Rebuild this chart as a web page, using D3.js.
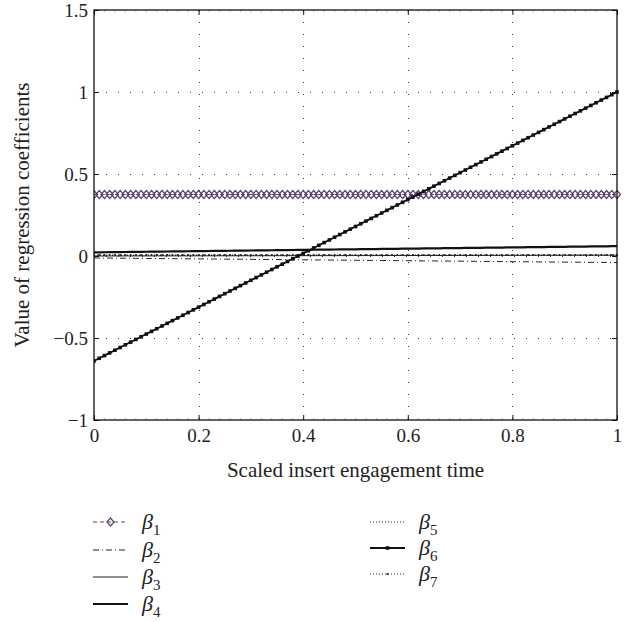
<!DOCTYPE html>
<html><head><meta charset="utf-8">
<script src="https://cdn.jsdelivr.net/npm/d3@7"></script>
<style>
body{margin:0;background:#fff;}
text{font-family:"Liberation Serif","Times New Roman",serif;fill:#222;}
</style></head>
<body><svg id="c" width="634" height="622"></svg>
<script>
// ---- data ----
const xDomain = [0, 1];
const yDomain = [-1, 1.5];
const xTicks = [0, 0.2, 0.4, 0.6, 0.8, 1];
const xTickLabels = ["0", "0.2", "0.4", "0.6", "0.8", "1"];
const yTicks = [-1, -0.5, 0, 0.5, 1, 1.5];
const yTickLabels = ["\u22121", "\u22120.5", "0", "0.5", "1", "1.5"];
const seriesNames = ["1", "2", "3", "4", "5", "6", "7"];
const valueAtStart = [0.375, -0.012, 0.0, 0.022, 0.003, -0.64, 0.006];
const valueAtEnd   = [0.375, -0.04, 0.005, 0.06, 0.003, 1.0, 0.006];
const sampleCount = 101;
const xLabel = "Scaled insert engagement time";
const yLabel = "Value of regression coefficients";

// ---- styles ----
const styles = [
  {color:"#5e3f6e", width:1, dash:"4,3", marker:"diamond"},
  {color:"#222", width:1, dash:"6,3,1,3", marker:null},
  {color:"#222", width:1, dash:null, marker:null},
  {color:"#111", width:2.2, dash:null, marker:null},
  {color:"#222", width:1, dash:"1,2", marker:null},
  {color:"#111", width:1.8, dash:null, marker:"square"},
  {color:"#222", width:1, dash:"1,2", marker:"dot"}
];

const svg = d3.select("#c");
const m = {l:94, r:617, t:10, b:420};
const x = d3.scaleLinear().domain(xDomain).range([m.l, m.r]);
const y = d3.scaleLinear().domain(yDomain).range([m.b, m.t]);

svg.append("defs").append("clipPath").attr("id","clip")
  .append("rect").attr("x",m.l).attr("y",m.t-6).attr("width",m.r-m.l+6).attr("height",m.b-m.t+12);

// grid
const grid = svg.append("g").attr("stroke","#333").attr("stroke-width",1).attr("stroke-dasharray","1,11");
grid.selectAll(".gx").data(xTicks.slice(1,-1)).join("line")
  .attr("x1",d=>Math.round(x(d))+0.5).attr("x2",d=>Math.round(x(d))+0.5).attr("y1",m.t).attr("y2",m.b);
grid.selectAll(".gy").data(yTicks.slice(1,-1)).join("line")
  .attr("y1",d=>Math.round(y(d))+0.5).attr("y2",d=>Math.round(y(d))+0.5).attr("x1",m.l).attr("x2",m.r);

// minor ticks
const minorX = d3.range(0, 51).map(i => i/50);
const minor = svg.append("g").attr("stroke","#888").attr("stroke-width",0.6);
minor.selectAll(".mb").data(minorX).join("line")
  .attr("x1",d=>x(d)).attr("x2",d=>x(d)).attr("y1",m.b).attr("y2",m.b-2);
minor.selectAll(".mt").data(minorX).join("line")
  .attr("x1",d=>x(d)).attr("x2",d=>x(d)).attr("y1",m.t).attr("y2",m.t+2);

// axes with inward ticks
const axB = d3.axisBottom(x).tickValues(xTicks).tickSize(-5).tickPadding(9).tickFormat((d,i)=>xTickLabels[i]);
const axT = d3.axisTop(x).tickValues(xTicks).tickSize(-5).tickFormat("");
const axL = d3.axisLeft(y).tickValues(yTicks).tickSize(-5).tickPadding(6).tickFormat((d,i)=>yTickLabels[i]);
const axR = d3.axisRight(y).tickValues(yTicks).tickSize(-5).tickFormat("");
function styleAx(g){ g.select(".domain").remove(); g.selectAll("line").attr("stroke","#111");
  g.attr("font-family",null);
  g.selectAll("text").style("font-family","'Liberation Serif','Times New Roman',serif").style("font-size","19px").attr("fill","#222"); }
svg.append("g").attr("transform",`translate(0,${m.b})`).call(axB).call(styleAx);
svg.append("g").attr("transform",`translate(0,${m.t})`).call(axT).call(styleAx);
svg.append("g").attr("transform",`translate(${m.l},0)`).call(axL).call(styleAx);
svg.append("g").attr("transform",`translate(${m.r},0)`).call(axR).call(styleAx);

// series
const xs = d3.range(sampleCount).map(i => xDomain[0] + (xDomain[1]-xDomain[0]) * i/(sampleCount-1));
const series = seriesNames.map((n,k) => xs.map(xv => ({x:xv, v: valueAtStart[k] + (valueAtEnd[k]-valueAtStart[k]) * (xv - xDomain[0])/(xDomain[1]-xDomain[0])})));
const line = d3.line().x(d=>x(d.x)).y(d=>y(d.v));
const plot = svg.append("g").attr("clip-path","url(#clip)");
const order = [1,2,4,6,3,0,5];
order.forEach(k => {
  const s = styles[k];
  plot.append("path").datum(series[k]).attr("d",line).attr("fill","none")
    .attr("stroke",s.color).attr("stroke-width",s.width).attr("stroke-dasharray",s.dash);
  drawMarkers(plot, series[k].map(d=>[x(d.x), y(d.v)]), s);
});

function drawMarkers(g, pts, s){
  if(s.marker==="diamond"){
    g.selectAll(null).data(pts).join("path")
      .attr("d",d=>`M${d[0]},${d[1]-4}L${d[0]+3.5},${d[1]}L${d[0]},${d[1]+4}L${d[0]-3.5},${d[1]}Z`)
      .attr("fill","none").attr("stroke",s.color).attr("stroke-width",1.2);
  } else if(s.marker==="square"){
    g.selectAll(null).data(pts).join("rect")
      .attr("x",d=>d[0]-1.8).attr("y",d=>d[1]-1.8).attr("width",3.6).attr("height",3.6).attr("fill",s.color);
  } else if(s.marker==="dot"){
    g.selectAll(null).data(pts).join("circle")
      .attr("cx",d=>d[0]).attr("cy",d=>d[1]).attr("r",1.1).attr("fill",s.color);
  }
}

// frame
svg.append("rect").attr("x",m.l).attr("y",m.t).attr("width",m.r-m.l).attr("height",m.b-m.t)
  .attr("fill","none").attr("stroke","#111").attr("stroke-width",1.3);

// axis labels
svg.append("text").attr("x",(m.l+m.r)/2).attr("y",477).attr("text-anchor","middle")
  .style("font-size","21px").text(xLabel);
svg.append("text").attr("transform",`translate(29,${(m.t+m.b)/2}) rotate(-90)`).attr("text-anchor","middle")
  .style("font-size","21px").text(yLabel);

// legend
const legendPos = [
  {lx:93, ly:522},{lx:93, ly:550},{lx:93, ly:577},{lx:93, ly:604},
  {lx:370, ly:522},{lx:370, ly:548},{lx:370, ly:574}
];
seriesNames.forEach((n,k)=>{
  const p = legendPos[k], s = styles[k];
  const g = svg.append("g");
  g.append("line").attr("x1",p.lx).attr("x2",p.lx+35).attr("y1",p.ly).attr("y2",p.ly)
    .attr("stroke",s.color).attr("stroke-width",s.width).attr("stroke-dasharray",s.dash);
  if(s.marker) drawMarkers(g, [[p.lx+17.5, p.ly]], s);
  const t = g.append("text").attr("x",p.lx+49).attr("y",p.ly+7).style("font-size","22px");
  t.append("tspan").style("font-style","italic").text("\u03b2");
  t.append("tspan").attr("dy",6).style("font-size","15px").text(n);
});
</script></body></html>
